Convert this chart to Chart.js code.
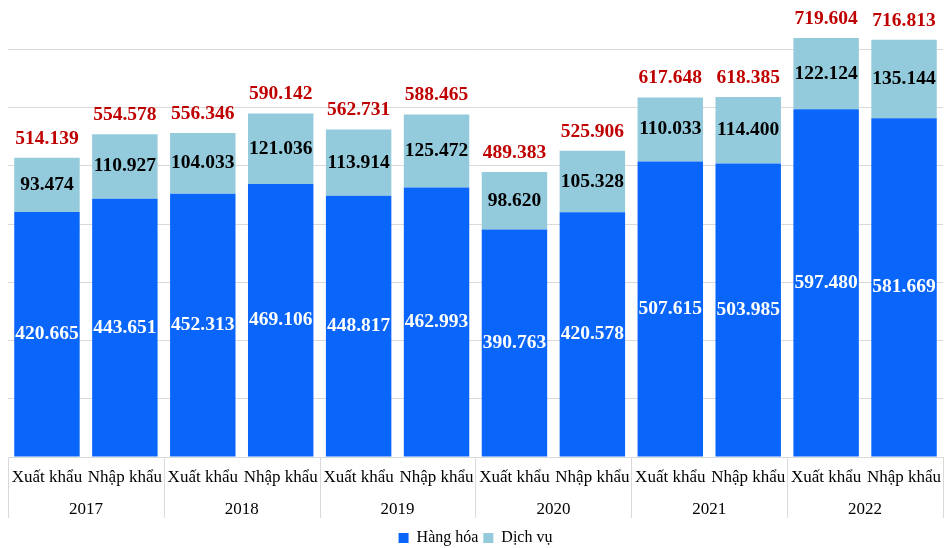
<!DOCTYPE html>
<html>
<head>
<meta charset="utf-8">
<script src="https://cdn.jsdelivr.net/npm/chart.js@4.4.1/dist/chart.umd.min.js"></script>
<style>
  body { margin: 0; background: #fff; }
  #wrap { width: 949px; height: 548px; }
</style>
</head>
<body>
<div id="wrap"><canvas id="chart"></canvas></div>
<script>
// Du lieu
const nam = ['2017', '2018', '2019', '2020', '2021', '2022'];
const loai = ['Xuất khẩu', 'Nhập khẩu', 'Xuất khẩu', 'Nhập khẩu', 'Xuất khẩu', 'Nhập khẩu',
              'Xuất khẩu', 'Nhập khẩu', 'Xuất khẩu', 'Nhập khẩu', 'Xuất khẩu', 'Nhập khẩu'];
const hangHoa = [420.665, 443.651, 452.313, 469.106, 448.817, 462.993, 390.763, 420.578, 507.615, 503.985, 597.480, 581.669];
const dichVu = [93.474, 110.927, 104.033, 121.036, 113.914, 125.472, 98.620, 105.328, 110.033, 114.400, 122.124, 135.144];
const tongSo = [514.139, 554.578, 556.346, 590.142, 562.731, 588.465, 489.383, 525.906, 617.648, 618.385, 719.604, 716.813];

const FONT = '"Liberation Serif", "Times New Roman", serif';
const GRID = '#d9d9d9';

// Ve nhan so lieu tren cot
const nhanSoLieu = {
    id: 'nhanSoLieu',
    afterDatasetsDraw(chart) {
        const ctx = chart.ctx;
        const m0 = chart.getDatasetMeta(0).data;
        const m1 = chart.getDatasetMeta(1).data;
        ctx.save();
        ctx.textAlign = 'center';
        ctx.textBaseline = 'middle';
        ctx.font = 'bold 19.5px ' + FONT;
        m0.forEach((bar, i) => {
            ctx.fillStyle = '#ffffff';
            ctx.fillText(hangHoa[i].toFixed(3), bar.x, (bar.y + bar.base) / 2);
            const b1 = m1[i];
            ctx.fillStyle = '#000000';
            ctx.fillText(dichVu[i].toFixed(3), b1.x, (b1.y + b1.base) / 2);
            ctx.fillStyle = '#c00000';
            ctx.fillText(tongSo[i].toFixed(3), b1.x, b1.y - 19);
        });
        ctx.restore();
    }
};

// Duong ke phan cach nhom nam
const keNhom = {
    id: 'keNhom',
    afterDraw(chart) {
        const ctx = chart.ctx;
        const x = chart.scales.x;
        const x2 = chart.scales.x2;
        const w = x.getPixelForValue(1) - x.getPixelForValue(0);
        ctx.save();
        ctx.strokeStyle = GRID;
        ctx.lineWidth = 1;
        ctx.beginPath();
        for (let g = 0; g <= nam.length; g++) {
            const px = Math.round(x.getPixelForValue(g * 2) - w / 2) + 0.5;
            ctx.moveTo(px, chart.chartArea.bottom);
            ctx.lineTo(px, x2.top + 29);
        }
        ctx.stroke();
        ctx.restore();
    }
};

new Chart(document.getElementById('chart').getContext('2d'), {
    type: 'bar',
    data: {
        labels: loai,
        datasets: [
            { label: 'Hàng hóa', data: hangHoa, backgroundColor: '#0a66fa', stack: 's' },
            { label: 'Dịch vụ', data: dichVu, backgroundColor: '#93cbdc', stack: 's' }
        ]
    },
    options: {
        responsive: true,
        maintainAspectRatio: false,
        animation: false,
        layout: { padding: { left: 8, right: 6, top: 0, bottom: -8 } },
        datasets: { bar: { categoryPercentage: 1, barPercentage: 0.84 } },
        scales: {
            x: {
                stacked: true,
                grid: { display: false },
                border: { color: GRID },
                ticks: { color: '#000', font: { family: FONT, size: 17 }, padding: 2, maxRotation: 0, autoSkip: false },
                afterFit(s) { s.height = 32; }
            },
            x2: {
                type: 'category',
                labels: nam,
                position: 'bottom',
                grid: { display: false },
                border: { display: false },
                ticks: { color: '#000', font: { family: FONT, size: 17 }, padding: 2 },
                afterFit(s) { s.height = 36; }
            },
            y: {
                stacked: true,
                min: 0,
                max: 785,
                ticks: { display: false, stepSize: 100 },
                border: { display: false },
                grid: {
                    color: c => (c.tick.value % 100 === 0 ? GRID : 'rgba(0,0,0,0)'),
                    drawTicks: false
                }
            }
        },
        plugins: {
            legend: {
                position: 'bottom',
                labels: {
                    color: '#000',
                    font: { family: FONT, size: 16, lineHeight: 1 },
                    boxWidth: 10,
                    boxHeight: 10,
                    padding: 5
                }
            },
            tooltip: { enabled: false }
        }
    },
    plugins: [nhanSoLieu, keNhom]
});
</script>
</body>
</html>
